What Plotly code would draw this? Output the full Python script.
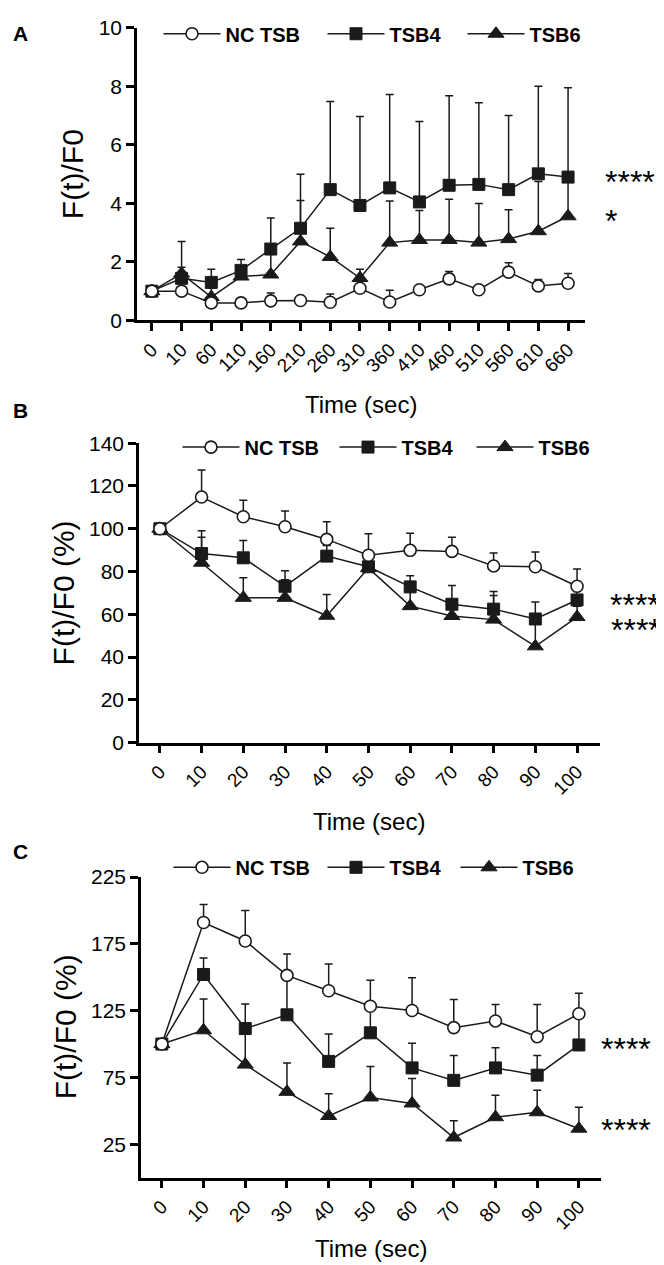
import plotly.graph_objects as go

W, H = 664, 1265
def xp(px): return px / W
def yp(py): return 1 - py / H

FONT = "Liberation Sans, Arial, sans-serif"
INK = "#1a1a1a"

# ---------------- Panel A ----------------
a_labels = ["0", "10", "60", "110", "160", "210", "260", "310", "360", "410", "460", "510", "560", "610", "660"]
a_nc = [1.0, 1.0, 0.6, 0.6, 0.67, 0.68, 0.62, 1.1, 0.63, 1.05, 1.42, 1.05, 1.65, 1.18, 1.27]
a_nc_err = [0.05, 0.05, 0.05, 0.05, 0.27, 0.05, 0.28, 0.05, 0.4, 0.05, 0.25, 0.05, 0.32, 0.22, 0.33]
a_tsb4 = [1.0, 1.44, 1.3, 1.71, 2.44, 3.15, 4.47, 3.93, 4.53, 4.05, 4.62, 4.65, 4.47, 5.01, 4.9]
a_tsb4_err = [0.0, 1.26, 0.45, 0.37, 1.06, 1.85, 3.01, 3.04, 3.19, 2.75, 3.06, 2.79, 2.53, 2.99, 3.05]
a_tsb6 = [1.0, 1.6, 0.8, 1.5, 1.57, 2.7, 2.17, 1.45, 2.66, 2.75, 2.75, 2.66, 2.78, 3.05, 3.56]
a_tsb6_err = [0.0, 0.22, 0.3, 0.3, 1.0, 1.4, 0.98, 0.3, 1.42, 1.01, 1.39, 1.34, 1.0, 1.7, 1.24]

# ---------------- Panel B ----------------
b_t = [0, 10, 20, 30, 40, 50, 60, 70, 80, 90, 100]
b_nc = [100, 114.8, 105.6, 100.9, 95.0, 87.6, 89.9, 89.4, 82.6, 82.2, 73.1]
b_nc_err = [0, 12.7, 7.7, 7.4, 8.2, 10.1, 8.0, 6.6, 6.1, 6.9, 8.1]
b_tsb4 = [100, 88.4, 86.4, 73.1, 87.2, 82.2, 72.8, 64.7, 62.4, 57.8, 66.7]
b_tsb4_err = [0, 10.7, 8.1, 7.3, 5.0, 5.0, 5.2, 8.7, 8.2, 7.9, 4.0]
b_tsb6 = [100, 84.1, 67.7, 67.7, 59.3, 81.6, 63.8, 59.2, 57.5, 45.0, 58.7]
b_tsb6_err = [0, 11.9, 9.4, 8.4, 10.0, 3.0, 7.0, 6.0, 11.3, 12.0, 5.0]

# ---------------- Panel C ----------------
c_t = [0, 10, 20, 30, 40, 50, 60, 70, 80, 90, 100]
c_nc = [100, 191, 177.2, 151.4, 139.9, 128.3, 125.1, 112.3, 117.3, 105.5, 122.7]
c_nc_err = [0, 13.5, 22.8, 16.0, 20.1, 19.4, 24.6, 21.0, 12.3, 24.1, 15.3]
c_tsb4 = [100, 152.1, 111.6, 121.9, 87.0, 108.4, 82.1, 72.8, 82.1, 76.7, 99.3]
c_tsb4_err = [0, 12.4, 18.4, 30.0, 20.6, 22.0, 18.4, 18.6, 15.2, 14.7, 24.0]
c_tsb6 = [100, 110.3, 84.6, 64.2, 46.1, 60.0, 55.5, 30.0, 45.2, 48.9, 36.6]
c_tsb6_err = [0, 23.4, 25.0, 21.6, 16.7, 23.2, 18.7, 12.6, 16.5, 16.5, 16.0]

series_names = ["NC TSB", "TSB4", "TSB6"]

fig = go.Figure()

styles = [
    dict(symbol="circle", size=12, color="white", line=dict(color=INK, width=1.6)),
    dict(symbol="square", size=12, color=INK, line=dict(color=INK, width=1)),
    dict(symbol="triangle-up", size=14, color=INK, line=dict(color=INK, width=1)),
]

panels = [
    ("x", "y", "legend", list(range(len(a_labels))),
     [(a_nc, a_nc_err), (a_tsb4, a_tsb4_err), (a_tsb6, a_tsb6_err)], [92, 68, 60]),
    ("x2", "y2", "legend2", b_t,
     [(b_nc, b_nc_err), (b_tsb4, b_tsb4_err), (b_tsb6, b_tsb6_err)], [85, 65, 60]),
    ("x3", "y3", "legend3", c_t,
     [(c_nc, c_nc_err), (c_tsb4, c_tsb4_err), (c_tsb6, c_tsb6_err)], [82, 61, 60]),
]

for xa, ya, lg, xs, data, lws in panels:
    # draw TSB6 first and NC TSB last so the open circles sit on top
    for i in [2, 1, 0]:
        vals, err = data[i]
        fig.add_trace(go.Scatter(
            x=xs, y=vals, xaxis=xa, yaxis=ya, legend=lg, legendrank=i + 1,
            name=series_names[i], mode="lines+markers",
            line=dict(color=INK, width=1.5),
            marker=styles[i],
            error_y=dict(type="data", array=err, arrayminus=[0] * len(err), symmetric=False,
                         color=INK, thickness=1.5, width=4),
            cliponaxis=False, legendwidth=lws[i],
        ))

axis_common = dict(showgrid=False, zeroline=False, showline=True, linecolor="black", linewidth=2.5,
                   ticks="outside", ticklen=8, tickwidth=2.5, tickcolor="black")
yfont = dict(family=FONT, size=21, color="black")
xfont = dict(family=FONT, size=19, color="black")

fig.update_layout(
    width=W, height=H, margin=dict(l=0, r=0, t=0, b=0),
    paper_bgcolor="white", plot_bgcolor="white",
    font=dict(family=FONT, color="black"),
    xaxis=dict(domain=[xp(129), xp(577)], anchor="y", range=[-0.5, 14.57],
               tickmode="array", tickvals=list(range(len(a_labels))), ticktext=a_labels, tickangle=-45,
               tickfont=xfont, **axis_common),
    yaxis=dict(domain=[yp(306), yp(8)], anchor="x", range=[0, 10], tickmode="linear", tick0=0, dtick=2,
               tickfont=yfont, **axis_common),
    xaxis2=dict(domain=[xp(131), xp(592)], anchor="y2", range=[-5, 105.5],
                tickmode="array", tickvals=b_t, tickangle=-45, tickfont=xfont, **axis_common),
    yaxis2=dict(domain=[yp(736), yp(431)], anchor="x2", range=[0, 140], tickmode="linear", tick0=0, dtick=20,
                tickfont=yfont, **axis_common),
    xaxis3=dict(domain=[xp(133), xp(593)], anchor="y3", range=[-5, 105.3],
                tickmode="array", tickvals=c_t, tickangle=-45, tickfont=xfont, **axis_common),
    yaxis3=dict(domain=[yp(1179), yp(873)], anchor="x3", range=[0, 225], tickmode="array",
                tickvals=[25, 75, 125, 175, 225], tickfont=yfont, **axis_common),
    showlegend=True,
)

leg_common = dict(orientation="h", xanchor="left", yanchor="middle", bgcolor="rgba(0,0,0,0)",
                  font=dict(family=FONT, size=20, color="black", weight="bold"), itemwidth=57,
                  borderwidth=0, traceorder="normal")
fig.update_layout(
    legend=dict(x=xp(150.5), y=yp(14), **leg_common),
    legend2=dict(x=xp(169.5), y=yp(435), **leg_common),
    legend3=dict(x=xp(160.5), y=yp(863), **leg_common),
)

ann = []
# Panel letters
for letter, py in [("A", 14), ("B", 398), ("C", 847)]:
    ann.append(dict(text="<b>%s</b>" % letter, x=xp(3), y=yp(py), xref="paper", yref="paper",
                    xanchor="left", yanchor="middle", showarrow=False, font=dict(size=21, family=FONT)))
# Axis titles
for txt, px, py in [("Time (sec)", 353, 392), ("Time (sec)", 361, 816), ("Time (sec)", 363, 1251)]:
    ann.append(dict(text=txt, x=xp(px), y=yp(py), xref="paper", yref="paper", xanchor="center",
                    yanchor="middle", showarrow=False, font=dict(size=24, family=FONT)))
for txt, px, py in [("F(t)/F0", 64, 157), ("F(t)/F0 (%)", 55, 584), ("F(t)/F0 (%)", 57, 1026)]:
    ann.append(dict(text=txt, x=xp(px), y=yp(py), xref="paper", yref="paper", xanchor="center",
                    yanchor="middle", showarrow=False, textangle=-90, font=dict(size=30, family=FONT)))
# Significance marks
for txt, px, yref, yv in [("****", 595, "y", 4.83), ("*", 595, "y", 3.49),
                          ("****", 600, "y2", 65.7), ("****", 601, "y2", 54.1),
                          ("****", 591, "y3", 98.5), ("****", 591, "y3", 37.5)]:
    ann.append(dict(text=txt, x=xp(px), y=yv, xref="paper", yref=yref, xanchor="left",
                    yanchor="middle", yshift=-3, showarrow=False, font=dict(size=32, family=FONT)))
fig.update_layout(annotations=ann)

fig.write_html("out.html")
